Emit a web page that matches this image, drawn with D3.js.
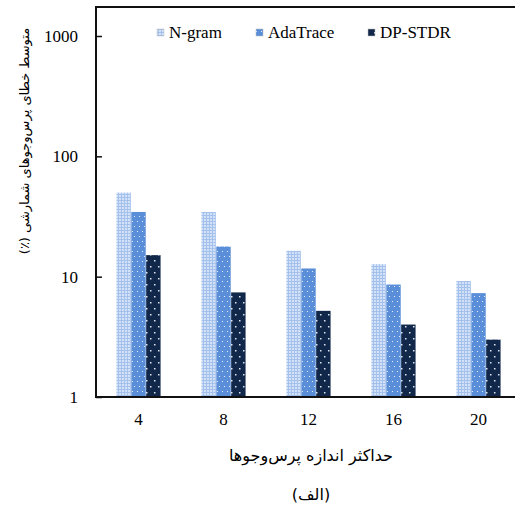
<!DOCTYPE html>
<html>
<head>
<meta charset="utf-8">
<script src="https://cdn.jsdelivr.net/npm/d3@7"></script>
<style>
  body { margin: 0; background: #fff; }
</style>
</head>
<body>
<div id="chart"></div>
<script>
const categories = ['4', '8', '12', '16', '20'];
const seriesNames = ['N-gram', 'AdaTrace', 'DP-STDR'];
const ngram = [50, 34.5, 16.4, 12.7, 9.2];
const adaTrace = [34.5, 17.8, 11.7, 8.6, 7.3];
const dpStdr = [15.1, 7.4, 5.2, 4.0, 3.0];
const yTicks = [1, 10, 100, 1000];
const xTitle = 'حداکثر اندازه پرس‌وجوها';
const yTitle = 'متوسط خطای پرس‌وجوهای شمارشی (٪)';
const caption = '(الف)';

const seriesValues = [ngram, adaTrace, dpStdr];
const data = categories.map((c, i) => ({
  cat: c,
  values: seriesNames.map((s, j) => ({ key: s, value: seriesValues[j][i] }))
}));

const width = 515, height = 506;
const margin = { left: 96, top: 7, bottom: 397, right: 521 };
const serif = '"Liberation Serif", "Times New Roman", Times, serif';
const faFont = '"DejaVu Sans", sans-serif';

const svg = d3.select('#chart')
  .append('svg')
  .attr('width', width)
  .attr('height', height);

// fill patterns
const defs = svg.append('defs');

const p1 = defs.append('pattern').attr('id', 'p-ngram')
  .attr('patternUnits', 'userSpaceOnUse').attr('width', 3).attr('height', 3);
p1.append('rect').attr('width', 3).attr('height', 3).attr('fill', '#a4c1ec');
p1.append('rect').attr('width', 2).attr('height', 2).attr('fill', '#d3e2f8');

const p2 = defs.append('pattern').attr('id', 'p-ada')
  .attr('patternUnits', 'userSpaceOnUse').attr('width', 5).attr('height', 10);
p2.append('rect').attr('width', 5).attr('height', 10).attr('fill', '#5a8ed8');
p2.append('rect').attr('x', 1).attr('y', 1).attr('width', 1).attr('height', 1).attr('fill', '#e6eefa');
p2.append('rect').attr('x', 3).attr('y', 6).attr('width', 1).attr('height', 1).attr('fill', '#e6eefa');

const p3 = defs.append('pattern').attr('id', 'p-dp')
  .attr('patternUnits', 'userSpaceOnUse').attr('width', 8).attr('height', 12);
p3.append('rect').attr('width', 8).attr('height', 12).attr('fill', '#12284b');
p3.append('rect').attr('x', 2).attr('y', 2).attr('width', 1.5).attr('height', 1.5).attr('fill', '#dfe6f0');
p3.append('rect').attr('x', 6).attr('y', 8).attr('width', 1.5).attr('height', 1.5).attr('fill', '#dfe6f0');

const fills = { 'N-gram': 'url(#p-ngram)', 'AdaTrace': 'url(#p-ada)', 'DP-STDR': 'url(#p-dp)' };

const x0 = d3.scaleBand()
  .domain(categories)
  .range([margin.left, margin.right])
  .paddingInner(0.47)
  .paddingOuter(0.235);

const x1 = d3.scaleBand()
  .domain(seriesNames)
  .range([0, x0.bandwidth()])
  .padding(0.03);

const y = d3.scaleLog()
  .domain([1, 1000])
  .range([margin.bottom, 36]);

// bars
svg.append('g')
  .selectAll('g')
  .data(data)
  .join('g')
  .attr('transform', d => `translate(${x0(d.cat)},0)`)
  .selectAll('rect')
  .data(d => d.values)
  .join('rect')
  .attr('x', d => x1(d.key))
  .attr('y', d => y(d.value))
  .attr('width', x1.bandwidth())
  .attr('height', d => y(1) - y(d.value))
  .attr('fill', d => fills[d.key]);

// frame
svg.append('path')
  .attr('d', `M${margin.right},${margin.top}H${margin.left}V${margin.bottom}H${margin.right}`)
  .attr('fill', 'none')
  .attr('stroke', '#111')
  .attr('stroke-width', 2);

// y axis (ticks inside)
const yAxis = svg.append('g')
  .attr('transform', `translate(${margin.left},0)`)
  .call(d3.axisLeft(y).tickValues(yTicks).tickFormat(d3.format('d')).tickSize(-6).tickPadding(18));
yAxis.attr('font-family', serif).attr('font-size', 17);
yAxis.select('.domain').remove();
yAxis.selectAll('.tick line').attr('stroke', '#111').attr('stroke-width', 1.5);
yAxis.selectAll('.tick text').attr('fill', '#000');

// x axis
const xAxis = svg.append('g')
  .attr('transform', `translate(0,${margin.bottom})`)
  .call(d3.axisBottom(x0).tickSize(0).tickPadding(16));
xAxis.attr('font-family', serif).attr('font-size', 17);
xAxis.select('.domain').remove();
xAxis.selectAll('.tick text').attr('fill', '#000');

// legend
const legendX = [157, 256, 368];
const legend = svg.append('g')
  .attr('font-family', serif)
  .attr('font-size', 17);
seriesNames.forEach((s, i) => {
  legend.append('rect')
    .attr('x', legendX[i]).attr('y', 29)
    .attr('width', 7).attr('height', 7)
    .attr('fill', fills[s])
    .attr('stroke', '#bbb').attr('stroke-width', 0.5);
  legend.append('text')
    .attr('x', legendX[i] + 12).attr('y', 38)
    .text(s);
});

// titles
svg.append('text')
  .attr('font-family', faFont)
  .attr('x', 311).attr('y', 461)
  .attr('text-anchor', 'middle')
  .attr('direction', 'rtl')
  .attr('font-size', 16)
  .text(xTitle);

svg.append('text')
  .attr('font-family', faFont)
  .attr('x', 311).attr('y', 500)
  .attr('text-anchor', 'middle')
  .attr('direction', 'rtl')
  .attr('font-size', 16)
  .text(caption);

svg.append('text')
  .attr('font-family', faFont)
  .attr('transform', 'translate(29,141) rotate(-90)')
  .attr('text-anchor', 'middle')
  .attr('direction', 'rtl')
  .attr('font-size', 13)
  .text(yTitle);
</script>
</body>
</html>
